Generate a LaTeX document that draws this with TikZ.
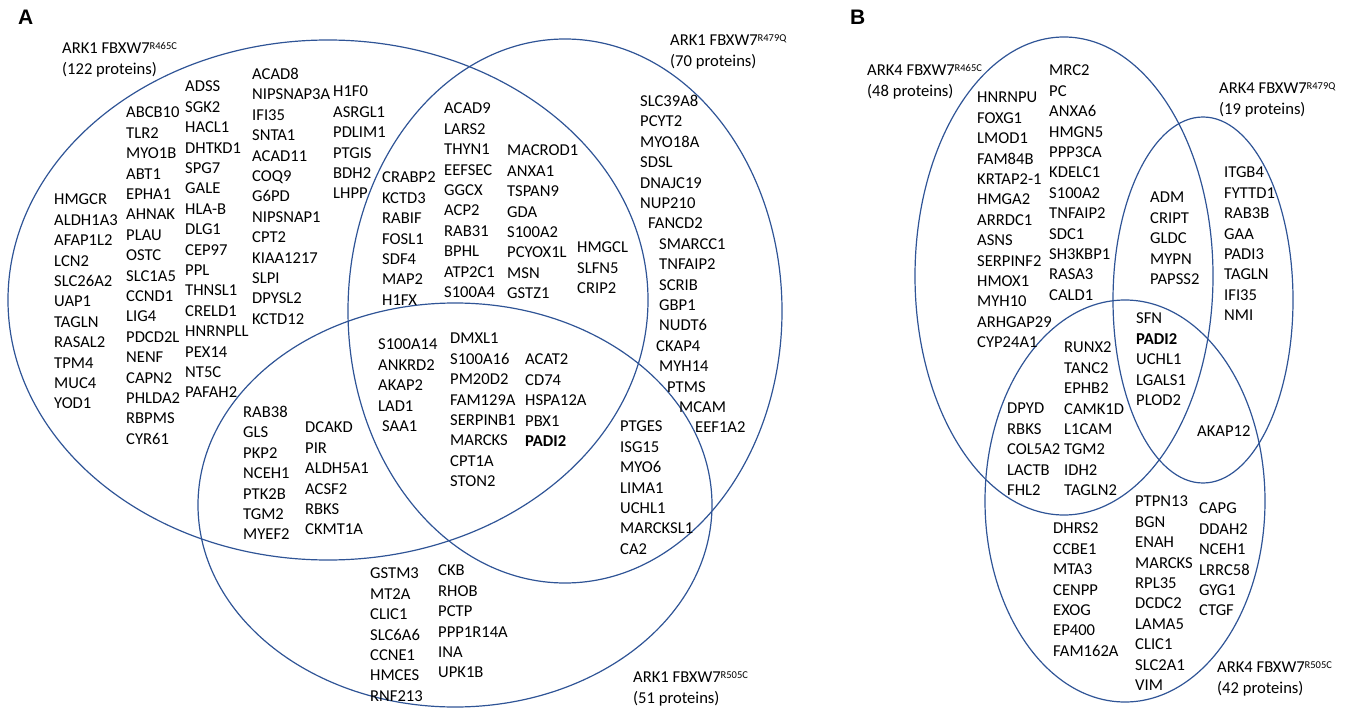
\documentclass[tikz,border=0pt]{standalone}
\usepackage{fontspec}
\setmainfont{Carlito}
\newfontfamily\panelfont{Liberation Sans}
\definecolor{vennblue}{RGB}{47,84,150}
\newcommand{\supr}[1]{\raisebox{4.6pt}[0pt][0pt]{\fontsize{10.5}{12}\selectfont #1}}
\begin{document}
\begin{tikzpicture}[x=1pt,y=-1pt,
  venn/.style={draw=vennblue,line width=1.2pt},
  genes/.style={anchor=north west,inner sep=0pt,align=left,font=\fontsize{16.6}{20.4}\selectfont},
  panel/.style={anchor=north west,inner sep=0pt,font=\panelfont\bfseries\fontsize{21}{24}\selectfont}]
\useasboundingbox (0,0) rectangle (1354,711);
% ---------------- Panel A ----------------
\draw[venn] (328,300) ellipse [x radius=320pt, y radius=260pt];
\draw[venn] (565,311) ellipse [x radius=217pt, y radius=272pt];
\draw[venn] (455,505) ellipse [x radius=257pt, y radius=202pt];
\node[panel] (pA) at (18,10) {A};
\node[genes] (labA1) at (62,43) {ARK1 FBXW7\supr{R465C}\\(122 proteins)};
\node[genes] (labA2) at (670,35) {ARK1 FBXW7\supr{R479Q}\\(70 proteins)};
\node[genes] (labA3) at (633,672) {ARK1 FBXW7\supr{R505C}\\(51 proteins)};
\node[genes] (a1) at (54,194) {HMGCR\\ALDH1A3\\AFAP1L2\\LCN2\\SLC26A2\\UAP1\\TAGLN\\RASAL2\\TPM4\\MUC4\\YOD1};
\node[genes] (a2) at (126,107) {ABCB10\\TLR2\\MYO1B\\ABT1\\EPHA1\\AHNAK\\PLAU\\OSTC\\SLC1A5\\CCND1\\LIG4\\PDCD2L\\NENF\\CAPN2\\PHLDA2\\RBPMS\\CYR61};
\node[genes] (a3) at (185,81) {ADSS\\SGK2\\HACL1\\DHTKD1\\SPG7\\GALE\\HLA-B\\DLG1\\CEP97\\PPL\\THNSL1\\CRELD1\\HNRNPLL\\PEX14\\NT5C\\PAFAH2};
\node[genes] (a4) at (252,68) {ACAD8\\NIPSNAP3A\\IFI35\\SNTA1\\ACAD11\\COQ9\\G6PD\\NIPSNAP1\\CPT2\\KIAA1217\\SLPI\\DPYSL2\\KCTD12};
\node[genes] (a5) at (333,86) {H1F0\\ASRGL1\\PDLIM1\\PTGIS\\BDH2\\LHPP};
\node[genes] (a6) at (382,172) {CRABP2\\KCTD3\\RABIF\\FOSL1\\SDF4\\MAP2\\H1FX};
\node[genes] (a7) at (444,103) {ACAD9\\LARS2\\THYN1\\EEFSEC\\GGCX\\ACP2\\RAB31\\BPHL\\ATP2C1\\S100A4};
\node[genes] (a8) at (507,145) {MACROD1\\ANXA1\\TSPAN9\\GDA\\S100A2\\PCYOX1L\\MSN\\GSTZ1};
\node[genes] (a9) at (577,242) {HMGCL\\SLFN5\\CRIP2};
\node[genes] (a10) at (640,95) {SLC39A8\\PCYT2\\MYO18A\\SDSL\\DNAJC19\\NUP210\\\hspace*{8pt}FANCD2\\\hspace*{19pt}SMARCC1\\\hspace*{19pt}TNFAIP2\\\hspace*{19pt}SCRIB\\\hspace*{19pt}GBP1\\\hspace*{19pt}NUDT6\\\hspace*{16pt}CKAP4\\\hspace*{19pt}MYH14\\\hspace*{27pt}PTMS\\\hspace*{39pt}MCAM\\\hspace*{55pt}EEF1A2};
\node[genes] (a11) at (378,339) {S100A14\\ANKRD2\\AKAP2\\LAD1\\\hspace*{4pt}SAA1};
\node[genes] (a12) at (450,333) {DMXL1\\S100A16\\PM20D2\\FAM129A\\SERPINB1\\MARCKS\\CPT1A\\STON2};
\node[genes] (a13) at (525,354) {ACAT2\\CD74\\HSPA12A\\PBX1\\\textbf{PADI2}};
\node[genes] (a14) at (243,406) {RAB38\\GLS\\PKP2\\NCEH1\\PTK2B\\TGM2\\MYEF2};
\node[genes] (a15) at (305,422) {DCAKD\\PIR\\ALDH5A1\\ACSF2\\RBKS\\CKMT1A};
\node[genes] (a16) at (620,421) {PTGES\\ISG15\\MYO6\\LIMA1\\UCHL1\\MARCKSL1\\CA2};
\node[genes] (a17) at (370,568) {GSTM3\\MT2A\\CLIC1\\SLC6A6\\CCNE1\\HMCES\\RNF213};
\node[genes] (a18) at (438,565) {CKB\\RHOB\\PCTP\\PPP1R14A\\INA\\UPK1B};
% ---------------- Panel B ----------------
\draw[venn] (1064,276) ellipse [x radius=149pt, y radius=239pt];
\draw[venn] (1203,300) ellipse [x radius=90pt, y radius=183pt];
\draw[venn] (1125,501) ellipse [x radius=140pt, y radius=201pt];
\node[panel] (pB) at (850,10) {B};
\node[genes] (labB1) at (867,65) {ARK4 FBXW7\supr{R465C}\\(48 proteins)};
\node[genes] (labB2) at (1219,83) {ARK4 FBXW7\supr{R479Q}\\(19 proteins)};
\node[genes] (labB3) at (1217,662) {ARK4 FBXW7\supr{R505C}\\(42 proteins)};
\node[genes] (b1) at (977,92) {HNRNPU\\FOXG1\\LMOD1\\FAM84B\\KRTAP2-1\\HMGA2\\ARRDC1\\ASNS\\SERPINF2\\HMOX1\\MYH10\\ARHGAP29\\CYP24A1};
\node[genes] (b2) at (1049,65) {MRC2\\PC\\ANXA6\\HMGN5\\PPP3CA\\KDELC1\\S100A2\\TNFAIP2\\SDC1\\SH3KBP1\\RASA3\\CALD1};
\node[genes] (b3) at (1150,192) {ADM\\CRIPT\\GLDC\\MYPN\\PAPSS2};
\node[genes] (b4) at (1224,167) {ITGB4\\FYTTD1\\RAB3B\\GAA\\PADI3\\TAGLN\\IFI35\\NMI};
\node[genes] (b5) at (1136,313) {SFN\\\textbf{PADI2}\\UCHL1\\LGALS1\\PLOD2};
\node[genes] (b6) at (1064,342) {RUNX2\\TANC2\\EPHB2\\CAMK1D\\L1CAM\\TGM2\\IDH2\\TAGLN2};
\node[genes] (b7) at (1007,403) {DPYD\\RBKS\\COL5A2\\LACTB\\FHL2};
\node[genes] (b8) at (1197,426) {AKAP12};
\node[genes] (b9) at (1135,496) {PTPN13\\BGN\\ENAH\\MARCKS\\RPL35\\DCDC2\\LAMA5\\CLIC1\\SLC2A1\\VIM};
\node[genes] (b10) at (1199,503) {CAPG\\DDAH2\\NCEH1\\LRRC58\\GYG1\\CTGF};
\node[genes] (b11) at (1053,523) {DHRS2\\CCBE1\\MTA3\\CENPP\\EXOG\\EP400\\FAM162A};
\end{tikzpicture}
\end{document}
